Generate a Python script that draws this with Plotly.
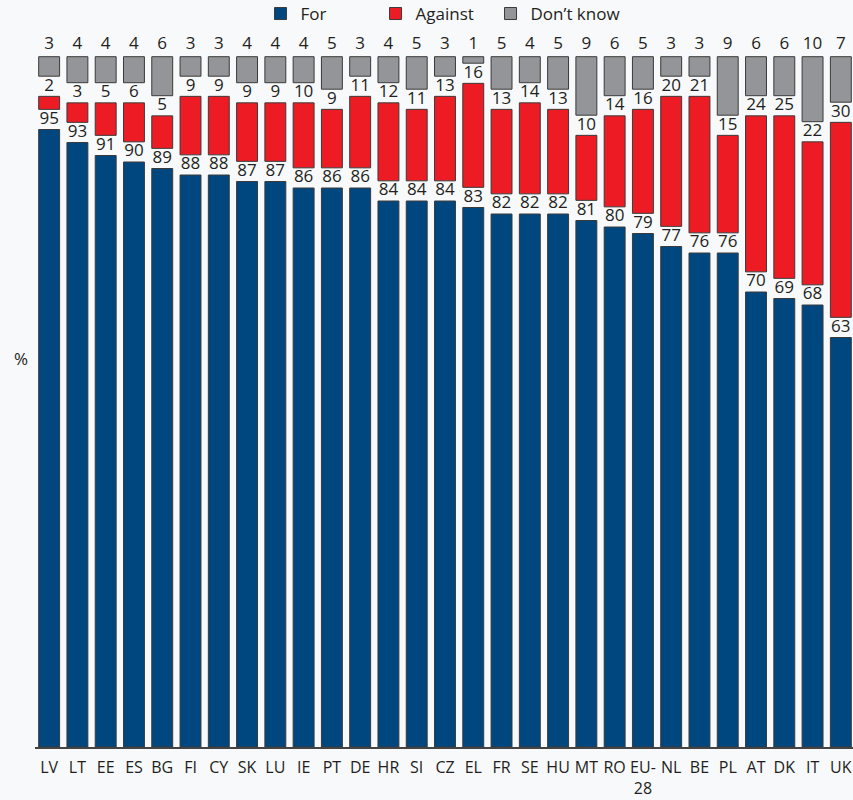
import plotly.graph_objects as go

countries = ["LV", "LT", "EE", "ES", "BG", "FI", "CY", "SK", "LU", "IE", "PT", "DE", "HR", "SI",
             "CZ", "EL", "FR", "SE", "HU", "MT", "RO", "EU-28", "NL", "BE", "PL", "AT", "DK", "IT", "UK"]
tick_labels = ["LV", "LT", "EE", "ES", "BG", "FI", "CY", "SK", "LU", "IE", "PT", "DE", "HR", "SI",
               "CZ", "EL", "FR", "SE", "HU", "MT", "RO", "EU-<br>28", "NL", "BE", "PL", "AT", "DK", "IT", "UK"]
for_vals = [95, 93, 91, 90, 89, 88, 88, 87, 87, 86, 86, 86, 84, 84,
            84, 83, 82, 82, 82, 81, 80, 79, 77, 76, 76, 70, 69, 68, 63]
against_vals = [2, 3, 5, 6, 5, 9, 9, 9, 9, 10, 9, 11, 12, 11,
                13, 16, 13, 14, 13, 10, 14, 16, 20, 21, 15, 24, 25, 22, 30]
dk_vals = [3, 4, 4, 4, 6, 3, 3, 4, 4, 4, 5, 3, 4, 5,
           3, 1, 5, 4, 5, 9, 6, 5, 3, 3, 9, 6, 6, 10, 7]

GAP = 3.1          # visual gap between stacked segments (in % units)
TOP = 100 + 2 * GAP
LABEL_OFF = 1.9
YMAX = 112

BLUE = "#00467f"
RED = "#ed1c24"
GREY = "#939598"
EDGE = "#3a3a3a"
TXT = "#231f20"
FONT = "Open Sans"
FS = 17

red_base = [f + GAP for f in for_vals]
grey_base = [f + a + 2 * GAP for f, a in zip(for_vals, against_vals)]

fig = go.Figure()
fig.add_trace(go.Bar(name="For", x=countries, y=for_vals, base=[0] * len(countries),
                     marker=dict(color=BLUE, line=dict(color=EDGE, width=1)), width=0.74,
                     legendwidth=70))
fig.add_trace(go.Bar(name="Against", x=countries, y=against_vals, base=red_base,
                     marker=dict(color=RED, line=dict(color=EDGE, width=1)), width=0.74,
                     legendwidth=70))
fig.add_trace(go.Bar(name="Don\u2019t know", x=countries, y=dk_vals, base=grey_base,
                     marker=dict(color=GREY, line=dict(color=EDGE, width=1)), width=0.74,
                     legendwidth=110))

# value labels
fig.add_trace(go.Scatter(x=countries, y=[f + GAP / 2 for f in for_vals], mode="text",
                         text=[str(v) for v in for_vals], textposition="middle center",
                         textfont=dict(family=FONT, size=FS, color=TXT),
                         showlegend=False, cliponaxis=False, hoverinfo="skip"))
fig.add_trace(go.Scatter(x=countries, y=[f + a + 1.5 * GAP for f, a in zip(for_vals, against_vals)],
                         mode="text", text=[str(v) for v in against_vals], textposition="middle center",
                         textfont=dict(family=FONT, size=FS, color=TXT),
                         showlegend=False, cliponaxis=False, hoverinfo="skip"))
fig.add_trace(go.Scatter(x=countries, y=[TOP + LABEL_OFF] * len(countries), mode="text",
                         text=[str(v) for v in dk_vals], textposition="middle center",
                         textfont=dict(family=FONT, size=FS, color=TXT),
                         showlegend=False, cliponaxis=False, hoverinfo="skip"))

fig.update_layout(
    width=853, height=800,
    barmode="overlay",
    paper_bgcolor="#f8f9fb", plot_bgcolor="#f8f9fb",
    margin=dict(l=35, r=0, t=19, b=53, autoexpand=False),
    font=dict(family=FONT, size=FS, color=TXT),
    legend=dict(orientation="h", x=0.2757, xanchor="left", y=1.0069, yanchor="middle",
                font=dict(family=FONT, size=FS, color=TXT),
                bgcolor="rgba(0,0,0,0)"),
    xaxis=dict(categoryorder="array", categoryarray=countries, tickvals=countries, ticktext=tick_labels,
               range=[-0.5, 28.43], showline=True, linecolor="#444444", linewidth=1.5,
               ticks="outside", ticklen=5, tickcolor="rgba(0,0,0,0)", showgrid=False,
               tickfont=dict(family=FONT, size=16, color=TXT)),
    yaxis=dict(range=[0, YMAX], showticklabels=False, showgrid=False, zeroline=False, showline=False),
    annotations=[dict(text="%", xref="paper", yref="paper", x=-0.0171, y=(747 - 358) / 728,
                      xanchor="center", yanchor="middle", showarrow=False,
                      font=dict(family=FONT, size=FS, color=TXT))],
)

fig.write_html("out.html")
